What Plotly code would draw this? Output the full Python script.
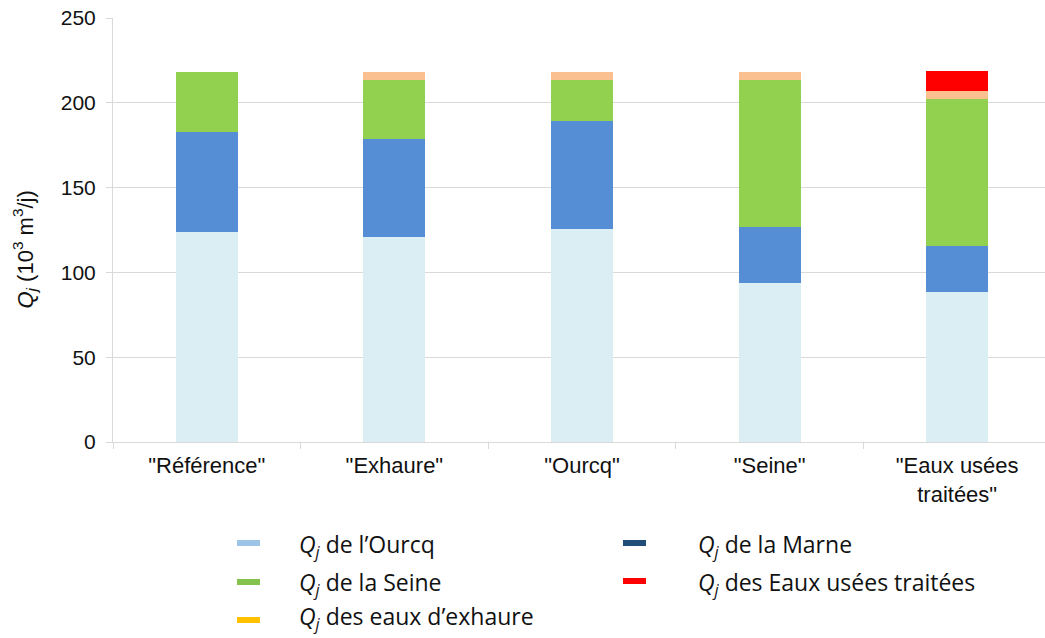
import plotly.graph_objects as go

# Scenarios and daily flows (10^3 m3/j) by source
scenarios = ['"Référence"', '"Exhaure"', '"Ourcq"', '"Seine"', '"Eaux usées<br>traitées"']
q_ourcq = [124, 121, 125.5, 94, 88.5]
q_marne = [59, 57.5, 63.5, 33, 27]
q_seine = [35, 35, 24.5, 86.5, 87]
q_exhaure = [0, 4.5, 4.5, 4.5, 4.5]
q_eut = [0, 0, 0, 0, 11.5]

y_ticks = [0, 50, 100, 150, 200, 250]

series = [
    ("Ourcq", q_ourcq, "#DBEEF4"),
    ("Marne", q_marne, "#558ED5"),
    ("Seine", q_seine, "#92D050"),
    ("Exhaure", q_exhaure, "#FAC090"),
    ("Eaux usées traitées", q_eut, "#FF0000"),
]

# Legend entries (two columns)
legend_labels = [
    "<i>Q</i><sub><i>j</i></sub> de l’Ourcq",
    "<i>Q</i><sub><i>j</i></sub> de la Seine",
    "<i>Q</i><sub><i>j</i></sub> des eaux d’exhaure",
    "<i>Q</i><sub><i>j</i></sub> de la Marne",
    "<i>Q</i><sub><i>j</i></sub> des Eaux usées traitées",
]
legend_colors = ["#9DC3E6", "#84C44E", "#FFC000", "#1F4E79", "#FF0000"]

fig = go.Figure()
for name, vals, color in series:
    fig.add_trace(go.Bar(
        x=scenarios, y=vals, name=name, marker_color=color,
        marker_line_width=0, width=0.33, showlegend=False,
    ))

W, H = 1045, 638
AXIS_FONT = "Liberation Sans, Arial, sans-serif"
fig.update_layout(
    width=W, height=H,
    barmode="stack",
    plot_bgcolor="white", paper_bgcolor="white",
    margin=dict(l=113, r=0, t=18, b=196),
    font=dict(family=AXIS_FONT, size=21, color="#222222"),
    xaxis=dict(
        range=[-0.5, 4.468], showline=True, linecolor="#D9D9D9", linewidth=1,
        ticks="outside", tickson="boundaries", ticklen=6, tickcolor="#D9D9D9",
        tickfont=dict(family=AXIS_FONT, size=22, color="#111111"), showgrid=False,
        ticklabelstandoff=4,
    ),
    yaxis=dict(
        range=[0, 250], tickvals=y_ticks, showline=True, linecolor="#D9D9D9",
        linewidth=1, ticks="outside", ticklen=6, tickcolor="#D9D9D9",
        gridcolor="#D9D9D9", gridwidth=1, zeroline=False,
        tickfont=dict(family=AXIS_FONT, size=21, color="#111111"), ticklabelstandoff=6,
    ),
    showlegend=False,
)

# Y-axis title
fig.add_annotation(
    xref="paper", yref="paper", x=-0.095, y=0.455, xanchor="center", yanchor="middle",
    text="<i>Q</i><sub><i>j</i></sub> (10<sup>3</sup> m<sup>3</sup>/j)",
    textangle=-90, showarrow=False,
    font=dict(family=AXIS_FONT, size=22, color="#111111"),
)

# Manual legend: colored dashes and labels, positioned in pixels
def px_x(x):
    return (x - 113) / (W - 113)

def px_y(y):
    return (H - 196 - y) / (H - 196 - 18)

# (dash x, dash y, text x, text y)
legend_pos = [
    (237, 543, 297, 545),
    (237, 582, 297, 583),
    (237, 620, 297, 617),
    (623, 543, 696, 545),
    (623, 581, 696, 583),
]
for (dx, dy, tx, ty), label, color in zip(legend_pos, legend_labels, legend_colors):
    fig.add_shape(
        type="rect", xref="paper", yref="paper",
        x0=px_x(dx), x1=px_x(dx + 23), y0=px_y(dy + 3), y1=px_y(dy - 3),
        fillcolor=color, line_width=0,
    )
    fig.add_annotation(
        xref="paper", yref="paper", x=px_x(tx), y=px_y(ty),
        xanchor="left", yanchor="middle", text=label, showarrow=False,
        font=dict(family="Open Sans, Noto Sans, sans-serif", size=23, color="#111111"),
    )

fig.write_html("out.html")
